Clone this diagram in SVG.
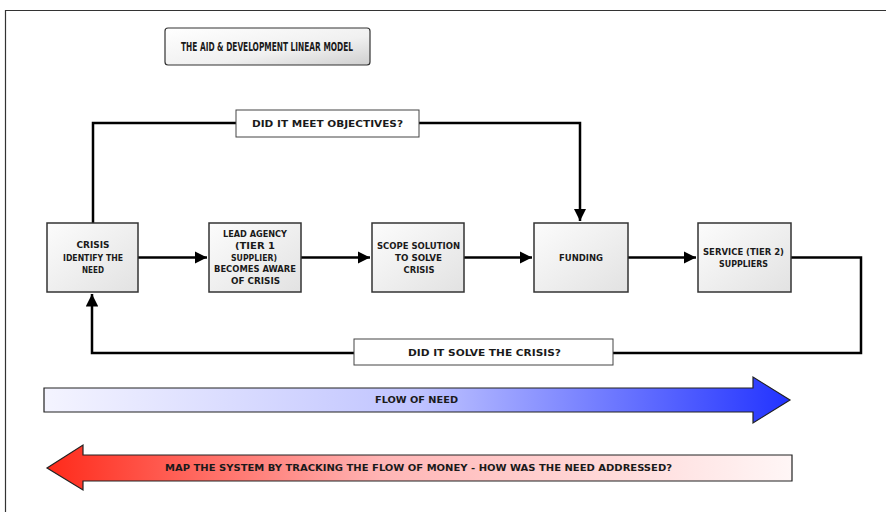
<svg xmlns="http://www.w3.org/2000/svg" width="886" height="512" viewBox="0 0 886 512">
<defs>
<linearGradient id="gNode" x1="0" y1="0" x2="1" y2="1">
<stop offset="0" stop-color="#fcfcfc"/><stop offset="1" stop-color="#e2e2e2"/>
</linearGradient>
<linearGradient id="gTitle" x1="0" y1="0" x2="1" y2="1">
<stop offset="0" stop-color="#ffffff"/><stop offset="0.6" stop-color="#f0f0f0"/><stop offset="1" stop-color="#cfcfcf"/>
</linearGradient>
<linearGradient id="gNeed" x1="0" y1="0" x2="1" y2="0">
<stop offset="0" stop-color="#f4f4ff"/><stop offset="0.5" stop-color="#c0c4ff"/><stop offset="1" stop-color="#2233ff"/>
</linearGradient>
<linearGradient id="gMoney" x1="0" y1="0" x2="1" y2="0">
<stop offset="0" stop-color="#ff2a1a"/><stop offset="0.45" stop-color="#ffb5b5"/><stop offset="1" stop-color="#fff6f6"/>
</linearGradient>
<marker id="ah" viewBox="0 0 10 10" refX="10" refY="5" markerWidth="5" markerHeight="5" orient="auto" markerUnits="strokeWidth">
<path d="M0,0 L10,5 L0,10 z" fill="#000"/>
</marker>
</defs>
<style>
.t{font-family:"DejaVu Sans Condensed","DejaVu Sans",sans-serif;font-weight:bold;fill:#1a1a1a;text-anchor:middle;dominant-baseline:central}
.n{font-size:9px}
.node{fill:url(#gNode);stroke:#333;stroke-width:1.5}
.lab{fill:#fff;stroke:#444;stroke-width:1}
.c{fill:none;stroke:#000;stroke-width:2.5}
.ca{fill:none;stroke:#000;stroke-width:2.5;marker-end:url(#ah)}
</style>
<rect width="886" height="512" fill="#fff"/>
<path d="M5.5,520 V10.5 H900" fill="none" stroke="#333" stroke-width="1.2"/>

<g id="title">
<rect x="165" y="28" width="205" height="37" rx="3" fill="url(#gTitle)" stroke="#333" stroke-width="1.2"/>
<text class="t" x="267" y="47" font-size="11.5" textLength="172" lengthAdjust="spacingAndGlyphs">THE AID &amp; DEVELOPMENT LINEAR MODEL</text>
</g>

<g id="connectors">
<path class="c" d="M93,223 V123 H236"/>
<path class="ca" d="M419,123 H580 V221"/>
<path class="ca" d="M138,257.5 H207"/>
<path class="ca" d="M301,257.5 H370"/>
<path class="ca" d="M464,257.5 H532"/>
<path class="ca" d="M628,257.5 H696"/>
<path class="c" d="M791,257.5 H861 V353 H613"/>
<path class="ca" d="M354,353 H92 V294"/>
</g>

<g id="label-objectives">
<rect class="lab" x="236" y="110" width="183" height="27"/>
<text class="t n" x="327.5" y="124" textLength="151" lengthAdjust="spacingAndGlyphs">DID IT MEET OBJECTIVES?</text>
</g>
<g id="label-solve">
<rect class="lab" x="354" y="339" width="259" height="26"/>
<text class="t n" x="484.5" y="352.5" textLength="153" lengthAdjust="spacingAndGlyphs">DID IT SOLVE THE CRISIS?</text>
</g>

<g id="node-crisis">
<rect class="node" x="47" y="223" width="91" height="69"/>
<text class="t n" x="93" y="245" textLength="33" lengthAdjust="spacingAndGlyphs">CRISIS</text>
<text class="t n" x="93" y="257.5" textLength="60" lengthAdjust="spacingAndGlyphs">IDENTIFY THE</text>
<text class="t n" x="93" y="270" textLength="22" lengthAdjust="spacingAndGlyphs">NEED</text>
</g>
<g id="node-lead">
<rect class="node" x="209" y="223" width="92" height="69"/>
<text class="t n" x="255" y="234" textLength="64" lengthAdjust="spacingAndGlyphs">LEAD AGENCY</text>
<text class="t n" x="255" y="246" textLength="40" lengthAdjust="spacingAndGlyphs">(TIER 1</text>
<text class="t n" x="254" y="257.5" textLength="46" lengthAdjust="spacingAndGlyphs">SUPPLIER)</text>
<text class="t n" x="255" y="269" textLength="82" lengthAdjust="spacingAndGlyphs">BECOMES AWARE</text>
<text class="t n" x="255.5" y="281" textLength="49" lengthAdjust="spacingAndGlyphs">OF CRISIS</text>
</g>
<g id="node-scope">
<rect class="node" x="372" y="223" width="92" height="69"/>
<text class="t n" x="418.5" y="245.5" textLength="83" lengthAdjust="spacingAndGlyphs">SCOPE SOLUTION</text>
<text class="t n" x="418.5" y="257.5" textLength="47" lengthAdjust="spacingAndGlyphs">TO SOLVE</text>
<text class="t n" x="419" y="269.5" textLength="31" lengthAdjust="spacingAndGlyphs">CRISIS</text>
</g>
<g id="node-funding">
<rect class="node" x="534" y="223" width="94" height="69"/>
<text class="t n" x="581" y="257.5" textLength="44" lengthAdjust="spacingAndGlyphs">FUNDING</text>
</g>
<g id="node-service">
<rect class="node" x="698" y="223" width="93" height="69"/>
<text class="t n" x="743.5" y="252" textLength="81" lengthAdjust="spacingAndGlyphs">SERVICE (TIER 2)</text>
<text class="t n" x="743.5" y="264" textLength="49" lengthAdjust="spacingAndGlyphs">SUPPLIERS</text>
</g>

<g id="flow-need">
<path d="M44,388 H753 V377 L790,400 L753,423 V412 H44 Z" fill="url(#gNeed)" stroke="#222" stroke-width="1.2"/>
<text class="t n" x="416.5" y="400" textLength="83" lengthAdjust="spacingAndGlyphs">FLOW OF NEED</text>
</g>
<g id="flow-money">
<path d="M792,455 H83 V445 L47,468 L83,490 V481 H792 Z" fill="url(#gMoney)" stroke="#222" stroke-width="1.2"/>
<text class="t n" x="418.5" y="468" textLength="507" lengthAdjust="spacingAndGlyphs">MAP THE SYSTEM BY TRACKING THE FLOW OF MONEY - HOW WAS THE NEED ADDRESSED?</text>
</g>
</svg>
